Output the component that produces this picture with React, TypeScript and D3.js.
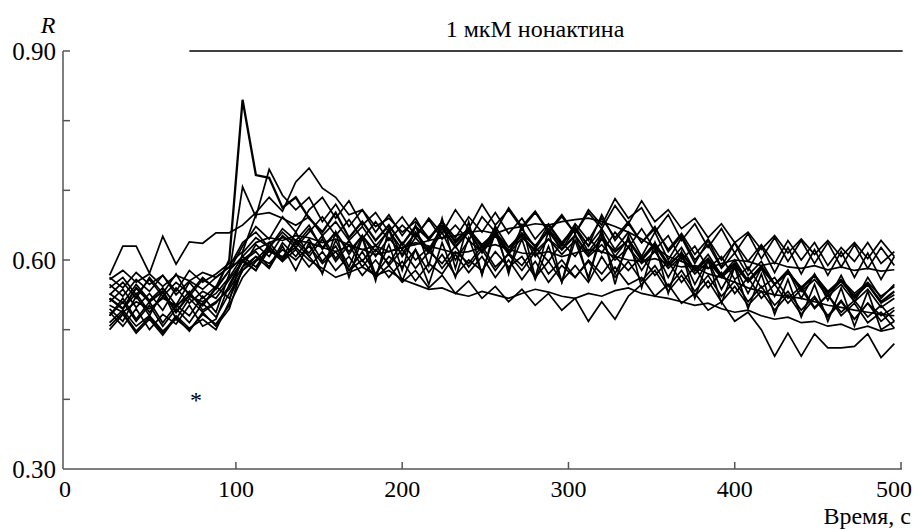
import { useEffect, useRef } from 'react';
import * as d3 from 'd3';

// time grid, s
const times = d3.range(24, 497, 8);

// ratio R for every cell
const s1 = [0.545, 0.530, 0.560, 0.540, 0.555, 0.525, 0.550, 0.535, 0.560,
  0.600, 0.830, 0.722, 0.718, 0.675, 0.690,
  0.660, 0.640, 0.668, 0.632, 0.655, 0.628, 0.650, 0.622, 0.648, 0.630, 0.655, 0.625, 0.645, 0.618, 0.640, 0.612, 0.638, 0.620, 0.642, 0.615, 0.635, 0.608, 0.630, 0.612, 0.628,
  0.600, 0.622, 0.592, 0.610, 0.585, 0.602, 0.578, 0.595, 0.570, 0.590, 0.565, 0.582, 0.560, 0.578, 0.552, 0.570, 0.548, 0.565, 0.540, 0.555];
const s2 = [0.520, 0.545, 0.515, 0.540, 0.510, 0.535, 0.520, 0.548, 0.525,
  0.580, 0.705, 0.662, 0.730, 0.693, 0.672,
  0.690, 0.655, 0.680, 0.648, 0.672, 0.640, 0.665, 0.635, 0.660, 0.628, 0.655, 0.632, 0.662, 0.640, 0.668, 0.638, 0.660, 0.630, 0.652, 0.625, 0.648, 0.620, 0.645, 0.615, 0.640,
  0.605, 0.640, 0.600, 0.632, 0.595, 0.628, 0.590, 0.625, 0.585, 0.620, 0.582, 0.618, 0.580, 0.615, 0.578, 0.612, 0.575, 0.610, 0.572, 0.605];
const s3 = [0.578, 0.620, 0.620, 0.581, 0.634, 0.594, 0.626, 0.624, 0.639,
  0.639, 0.650, 0.668, 0.690, 0.670, 0.712,
  0.732, 0.703, 0.690, 0.665, 0.672, 0.648, 0.660, 0.640, 0.655, 0.632, 0.650, 0.628, 0.645, 0.622, 0.640, 0.618, 0.635, 0.612, 0.630, 0.608, 0.628, 0.605, 0.622, 0.600, 0.618,
  0.595, 0.612, 0.588, 0.605, 0.580, 0.598, 0.575, 0.592, 0.568, 0.588, 0.565, 0.582, 0.560, 0.578, 0.555, 0.572, 0.552, 0.568, 0.548, 0.562];
const s4 = [0.565, 0.548, 0.572, 0.555, 0.578, 0.550, 0.570, 0.558, 0.575,
  0.590, 0.625, 0.640, 0.618, 0.645, 0.628,
  0.650, 0.615, 0.640, 0.608, 0.635, 0.612, 0.645, 0.605, 0.632, 0.610, 0.640, 0.600, 0.628, 0.612, 0.648, 0.618, 0.638, 0.605, 0.630, 0.615, 0.645, 0.620, 0.665, 0.628, 0.652,
  0.625, 0.645, 0.615, 0.638, 0.608, 0.630, 0.600, 0.625, 0.598, 0.622, 0.595, 0.628, 0.600, 0.625, 0.592, 0.618, 0.598, 0.625, 0.595, 0.612];
const s5 = [0.525, 0.505, 0.530, 0.500, 0.522, 0.508, 0.535, 0.505, 0.515,
  0.565, 0.600, 0.585, 0.615, 0.598, 0.625,
  0.605, 0.630, 0.598, 0.622, 0.590, 0.615, 0.595, 0.625, 0.600, 0.618, 0.588, 0.612, 0.595, 0.620, 0.590, 0.608, 0.585, 0.612, 0.580, 0.600, 0.575, 0.598, 0.570, 0.590, 0.565,
  0.575, 0.548, 0.565, 0.538, 0.552, 0.528, 0.540, 0.512, 0.525, 0.500, 0.462, 0.495, 0.462, 0.494, 0.474, 0.474, 0.476, 0.494, 0.460, 0.480];
const s6 = [0.540, 0.558, 0.532, 0.552, 0.528, 0.560, 0.538, 0.555, 0.545,
  0.572, 0.598, 0.612, 0.590, 0.625, 0.605,
  0.630, 0.598, 0.620, 0.585, 0.612, 0.580, 0.605, 0.590, 0.615, 0.582, 0.608, 0.578, 0.600, 0.585, 0.612, 0.590, 0.605, 0.575, 0.598, 0.570, 0.592, 0.568, 0.605, 0.575, 0.598,
  0.570, 0.592, 0.562, 0.585, 0.555, 0.578, 0.548, 0.570, 0.540, 0.562, 0.535, 0.555, 0.528, 0.548, 0.520, 0.542, 0.515, 0.538, 0.512, 0.528];
const s7 = [0.510, 0.528, 0.505, 0.520, 0.498, 0.515, 0.500, 0.522, 0.508,
  0.535, 0.575, 0.598, 0.612, 0.605, 0.618,
  0.600, 0.588, 0.575, 0.582, 0.590, 0.578, 0.585, 0.572, 0.565, 0.558, 0.560, 0.552, 0.548, 0.555, 0.550, 0.545, 0.552, 0.558, 0.554, 0.548, 0.545, 0.552, 0.548, 0.556, 0.560,
  0.552, 0.548, 0.545, 0.540, 0.535, 0.538, 0.530, 0.525, 0.528, 0.520, 0.515, 0.518, 0.510, 0.512, 0.505, 0.508, 0.500, 0.505, 0.498, 0.502];
const s8 = [0.575, 0.560, 0.582, 0.565, 0.578, 0.555, 0.585, 0.568, 0.580,
  0.595, 0.612, 0.665, 0.668, 0.660, 0.650,
  0.662, 0.635, 0.655, 0.628, 0.648, 0.620, 0.642, 0.615, 0.638, 0.612, 0.645, 0.618, 0.640, 0.610, 0.635, 0.608, 0.632, 0.615, 0.645, 0.620, 0.652, 0.628, 0.660, 0.632, 0.655,
  0.625, 0.648, 0.612, 0.635, 0.600, 0.622, 0.588, 0.610, 0.578, 0.598, 0.565, 0.585, 0.555, 0.572, 0.548, 0.565, 0.540, 0.558, 0.532, 0.545];
const s9 = [0.535, 0.525, 0.540, 0.530, 0.545, 0.535, 0.548, 0.540, 0.552,
  0.575, 0.605, 0.625, 0.632, 0.628, 0.635,
  0.632, 0.625, 0.630, 0.622, 0.615, 0.620, 0.612, 0.618, 0.625, 0.620, 0.615, 0.610, 0.612, 0.618, 0.622, 0.615, 0.610, 0.608, 0.612, 0.605, 0.610, 0.615, 0.612, 0.605, 0.600,
  0.598, 0.602, 0.595, 0.590, 0.592, 0.588, 0.595, 0.600, 0.598, 0.592, 0.596, 0.590, 0.588, 0.592, 0.586, 0.590, 0.585, 0.588, 0.584, 0.586];
const s10 = [0.552, 0.538, 0.565, 0.542, 0.560, 0.535, 0.568, 0.545, 0.562,
  0.545, 0.585, 0.600, 0.620, 0.598, 0.615,
  0.590, 0.612, 0.585, 0.605, 0.578, 0.600, 0.575, 0.598, 0.570, 0.595, 0.580, 0.608, 0.582, 0.605, 0.575, 0.600, 0.572, 0.598, 0.568, 0.592, 0.575, 0.600, 0.580, 0.605, 0.585,
  0.605, 0.578, 0.598, 0.568, 0.590, 0.560, 0.582, 0.552, 0.575, 0.545, 0.565, 0.538, 0.558, 0.530, 0.550, 0.525, 0.542, 0.518, 0.535, 0.512];
const s11 = [0.505, 0.525, 0.498, 0.518, 0.495, 0.520, 0.502, 0.515, 0.500,
  0.540, 0.610, 0.632, 0.618, 0.640, 0.622,
  0.645, 0.618, 0.640, 0.612, 0.635, 0.605, 0.632, 0.608, 0.640, 0.615, 0.648, 0.620, 0.642, 0.612, 0.638, 0.610, 0.645, 0.618, 0.650, 0.622, 0.645, 0.612, 0.638, 0.605, 0.630,
  0.602, 0.625, 0.595, 0.618, 0.585, 0.608, 0.578, 0.600, 0.570, 0.592, 0.565, 0.585, 0.558, 0.578, 0.552, 0.570, 0.545, 0.565, 0.538, 0.550];
const s12 = [0.560, 0.575, 0.550, 0.572, 0.548, 0.568, 0.552, 0.575, 0.558,
  0.585, 0.605, 0.590, 0.618, 0.600, 0.628,
  0.610, 0.635, 0.602, 0.628, 0.598, 0.622, 0.592, 0.615, 0.588, 0.612, 0.595, 0.620, 0.590, 0.615, 0.585, 0.610, 0.592, 0.618, 0.598, 0.625, 0.605, 0.632, 0.610, 0.640, 0.618,
  0.645, 0.615, 0.635, 0.600, 0.620, 0.588, 0.605, 0.572, 0.590, 0.560, 0.575, 0.545, 0.562, 0.532, 0.550, 0.520, 0.538, 0.510, 0.525, 0.502];
const s13 = [0.545, 0.530, 0.552, 0.525, 0.548, 0.532, 0.555, 0.528, 0.540,
  0.558, 0.590, 0.622, 0.605, 0.635, 0.618,
  0.640, 0.662, 0.635, 0.658, 0.630, 0.655, 0.628, 0.650, 0.632, 0.660, 0.638, 0.672, 0.645, 0.680, 0.650, 0.672, 0.645, 0.668, 0.640, 0.662, 0.638, 0.668, 0.645, 0.678, 0.652,
  0.685, 0.655, 0.672, 0.645, 0.660, 0.632, 0.652, 0.625, 0.640, 0.615, 0.635, 0.610, 0.630, 0.608, 0.628, 0.605, 0.625, 0.602, 0.628, 0.605];
const s14 = [0.520, 0.540, 0.512, 0.535, 0.505, 0.530, 0.510, 0.538, 0.518,
  0.552, 0.585, 0.605, 0.595, 0.615, 0.600,
  0.620, 0.595, 0.612, 0.585, 0.600, 0.575, 0.592, 0.568, 0.585, 0.560, 0.578, 0.552, 0.570, 0.545, 0.562, 0.540, 0.558, 0.535, 0.552, 0.528, 0.545, 0.512, 0.540, 0.515, 0.548,
  0.565, 0.585, 0.555, 0.578, 0.548, 0.570, 0.540, 0.562, 0.535, 0.555, 0.528, 0.550, 0.522, 0.545, 0.518, 0.540, 0.515, 0.538, 0.520, 0.532];
const s15 = [0.500, 0.522, 0.495, 0.515, 0.492, 0.518, 0.498, 0.525, 0.505,
  0.530, 0.590, 0.605, 0.588, 0.620, 0.585,
  0.625, 0.580, 0.640, 0.575, 0.632, 0.570, 0.645, 0.585, 0.650, 0.592, 0.660, 0.588, 0.655, 0.578, 0.648, 0.580, 0.652, 0.575, 0.642, 0.568, 0.638, 0.572, 0.645, 0.565, 0.635,
  0.560, 0.625, 0.552, 0.612, 0.545, 0.600, 0.538, 0.590, 0.530, 0.580, 0.522, 0.572, 0.518, 0.565, 0.512, 0.560, 0.505, 0.555, 0.500, 0.512];
const s16 = [0.550, 0.568, 0.545, 0.575, 0.552, 0.580, 0.548, 0.572, 0.560,
  0.585, 0.620, 0.648, 0.630, 0.662, 0.640,
  0.672, 0.690, 0.660, 0.685, 0.650, 0.668, 0.640, 0.662, 0.635, 0.658, 0.630, 0.650, 0.628, 0.662, 0.640, 0.675, 0.648, 0.670, 0.642, 0.665, 0.638, 0.672, 0.650, 0.688, 0.660,
  0.675, 0.640, 0.665, 0.628, 0.652, 0.618, 0.645, 0.610, 0.638, 0.602, 0.632, 0.598, 0.628, 0.595, 0.625, 0.590, 0.622, 0.588, 0.618, 0.592];
const s17 = [0.530, 0.512, 0.548, 0.520, 0.555, 0.515, 0.545, 0.525, 0.538,
  0.562, 0.598, 0.585, 0.625, 0.602, 0.640,
  0.605, 0.582, 0.628, 0.590, 0.635, 0.578, 0.622, 0.570, 0.615, 0.565, 0.625, 0.575, 0.632, 0.580, 0.640, 0.585, 0.630, 0.572, 0.620, 0.568, 0.628, 0.575, 0.635, 0.580, 0.620,
  0.585, 0.615, 0.575, 0.608, 0.565, 0.600, 0.558, 0.592, 0.552, 0.588, 0.548, 0.585, 0.545, 0.580, 0.542, 0.578, 0.540, 0.575, 0.545, 0.565];
const s18 = [0.572, 0.585, 0.568, 0.580, 0.562, 0.578, 0.570, 0.582, 0.575,
  0.590, 0.600, 0.615, 0.625, 0.632, 0.628,
  0.625, 0.618, 0.612, 0.620, 0.615, 0.608, 0.612, 0.618, 0.622, 0.628, 0.632, 0.635, 0.640, 0.642, 0.638, 0.645, 0.648, 0.652, 0.650, 0.655, 0.658, 0.660, 0.655, 0.648, 0.640,
  0.630, 0.618, 0.605, 0.598, 0.590, 0.580, 0.575, 0.568, 0.560, 0.555, 0.550, 0.548, 0.545, 0.540, 0.535, 0.532, 0.528, 0.525, 0.522, 0.520];

const cells = [s1, s2, s3, s4, s5, s6, s7, s8, s9, s10, s11, s12, s13, s14, s15, s16, s17, s18];

const xTicks = [0, 100, 200, 300, 400, 500];
const yTicks = [0.3, 0.4, 0.5, 0.6, 0.7, 0.8, 0.9];
const yLabels = [0.3, 0.6, 0.9];
const nonactin = [72, 501]; // s
const star = [76, 0.387];

export default function App() {
  const svgRef = useRef<SVGSVGElement>(null);
  const width = 916;
  const height = 529;

  useEffect(() => {
    const svg = d3.select(svgRef.current);
    svg.selectAll('*').remove();

    const x = d3.scaleLinear().domain([-4, 500]).range([63, 901]);
    const y = d3.scaleLinear().domain([0.3, 0.9]).range([469, 51]);
    const font = "'Liberation Serif', 'DejaVu Serif', 'Times New Roman', serif";

    // curves
    const line = d3.line<number>()
      .x((d, i) => x(times[i]))
      .y(d => y(d));

    svg.append('g')
      .selectAll('path')
      .data(cells)
      .enter()
      .append('path')
      .attr('d', d => line(d))
      .attr('fill', 'none')
      .attr('stroke', '#000')
      .attr('stroke-width', (d, i) => (i === 0 ? 2.3 : 1.7))
      .attr('stroke-linejoin', 'miter');

    // axes
    const ax = svg.append('g').attr('stroke', '#555').attr('stroke-width', 1.5);
    ax.append('line')
      .attr('x1', x(-4)).attr('x2', x(-4))
      .attr('y1', y(0.3)).attr('y2', y(0.9));
    ax.append('line')
      .attr('x1', x(-4)).attr('x2', x(500) + 1)
      .attr('y1', y(0.3)).attr('y2', y(0.3));
    ax.selectAll('line.yt')
      .data(yTicks.slice(1))
      .enter()
      .append('line')
      .attr('class', 'yt')
      .attr('x1', x(-4)).attr('x2', x(-4) + 7)
      .attr('y1', d => y(d)).attr('y2', d => y(d));
    ax.selectAll('line.xt')
      .data(xTicks.slice(1))
      .enter()
      .append('line')
      .attr('class', 'xt')
      .attr('x1', d => x(d)).attr('x2', d => x(d))
      .attr('y1', y(0.3)).attr('y2', y(0.3) - 7);

    const txt = svg.append('g')
      .style('font-family', font)
      .style('font-size', '24px')
      .attr('fill', '#000');

    txt.selectAll('text.yl')
      .data(yLabels)
      .enter()
      .append('text')
      .attr('class', 'yl')
      .attr('x', 56)
      .attr('y', d => y(d))
      .attr('dy', '0.34em')
      .attr('text-anchor', 'end')
      .style('font-size', '25px')
      .text(d => d.toFixed(2));

    txt.selectAll('text.xl')
      .data(xTicks)
      .enter()
      .append('text')
      .attr('class', 'xl')
      .attr('x', d => (d === 0 ? x(-4) + 2 : d === 500 ? x(d) - 7 : x(d)))
      .attr('y', y(0.3) + 28)
      .attr('text-anchor', 'middle')
      .text(d => d);

    txt.append('text')
      .attr('x', 48).attr('y', 33)
      .attr('text-anchor', 'middle')
      .style('font-style', 'italic')
      .text('R');

    txt.append('text')
      .attr('x', 911).attr('y', 524)
      .attr('text-anchor', 'end')
      .text('Время, с');

    txt.append('text')
      .attr('x', x(star[0]))
      .attr('y', y(star[1]))
      .attr('text-anchor', 'middle')
      .text('*');

    // treatment bar
    svg.append('line')
      .attr('x1', x(nonactin[0])).attr('x2', x(nonactin[1]))
      .attr('y1', y(0.9)).attr('y2', y(0.9))
      .attr('stroke', '#000')
      .attr('stroke-width', 1.5);

    txt.append('text')
      .attr('x', 535).attr('y', 37)
      .attr('text-anchor', 'middle')
      .text('1 мкМ нонактина');
  }, []);

  return (
    <svg
      ref={svgRef}
      width={width}
      height={height}
      style={{ position: 'absolute', left: 0, top: 0, background: '#fff' }}
    />
  );
}
